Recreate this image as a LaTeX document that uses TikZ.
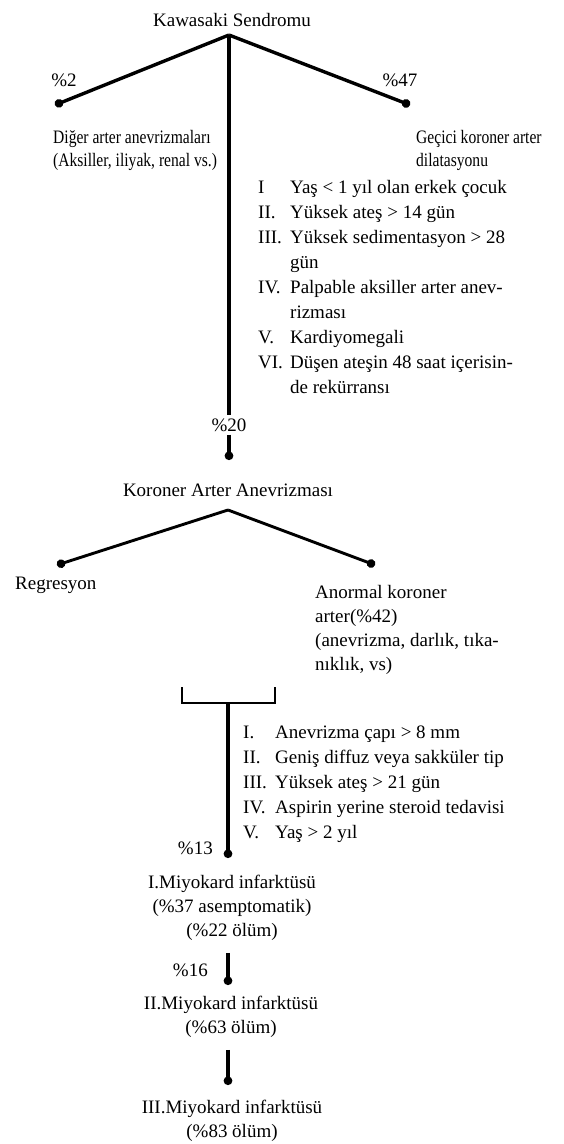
\documentclass[tikz,border=0pt]{standalone}
\usepackage{fontspec}
\setmainfont{Liberation Serif}
\newfontfamily\narrowserif[FakeStretch=0.82]{Liberation Serif}
\usepackage{tikz}
\usetikzlibrary{
  arrows.meta,
  positioning,
}

\begin{document}
\begin{tikzpicture}[
    x=1pt, y=-1pt,
    txt/.style={inner sep=0pt, font=\fontsize{19}{24}\selectfont},
    narrow/.style={inner sep=0pt, font=\narrowserif\fontsize{19}{23}\selectfont},
    list/.style={inner sep=0pt, font=\fontsize{19}{25}\selectfont},
    pct/.style={txt, inner sep=3pt},
    lead/.style={line width=3.4pt, -{Circle[length=8.5pt]}},
    stem/.style={line width=3.6pt},
  ]
  \useasboundingbox (0,0) rectangle (564,1144);

  \node[txt] (kawasaki) at (232,20) {Kawasaki Sendromu};
  \coordinate (kApex) at (229,35);
  \coordinate (digerEnd) at (55,105);
  \coordinate (geciciEnd) at (410,105);

  \node[txt] (p2) at (64,80) {\%2};
  \node[txt] (p47) at (400,80) {\%47};
  \draw[lead] (kApex) -- (digerEnd);
  \draw[lead] (kApex) -- (geciciEnd);

  \node[narrow, align=left, anchor=north west] (diger) at (53,130)
    {Diğer arter anevrizmaları\\(Aksiller, iliyak, renal vs.)};
  \node[narrow, align=left, anchor=north west] (gecici) at (416,130)
    {Geçici koroner arter\\dilatasyonu};

  \node[list, anchor=north west] (risk1) at (258,176) {%
    \begin{tabular}{@{}p{32pt}@{}l@{}}
      I    & Yaş < 1 yıl olan erkek çocuk \\
      II.  & Yüksek ateş > 14 gün \\
      III. & Yüksek sedimentasyon > 28 \\
           & gün \\
      IV.  & Palpable aksiller arter anev- \\
           & rizması \\
      V.   & Kardiyomegali \\
      VI.  & Düşen ateşin 48 saat içerisin- \\
           & de rekürransı
    \end{tabular}};

  \node[pct] (p20) at (229,425) {\%20};
  \draw[stem] (kApex) -- (kApex |- p20.north);
  \coordinate (kaaTip) at (229,460);
  \draw[lead] (p20.south) -- (kaaTip);

  \node[txt] (kaa) at (228,490) {Koroner Arter Anevrizması};
  \coordinate (kaaApex) at (228,510);
  \coordinate (regEnd) at (57,565);
  \coordinate (anoEnd) at (375,565);
  \draw[lead, line width=2.9pt] (kaaApex) -- (regEnd);
  \draw[lead, line width=2.9pt] (kaaApex) -- (anoEnd);

  \node[txt, anchor=west] (regresyon) at (15,585) {Regresyon};
  \node[txt, align=left, anchor=north west] (anormal) at (315,585)
    {Anormal koroner\\arter(\%42)\\(anevrizma, darlık, tıka-\\nıklık, vs)};

  \coordinate (brL) at (182,687);
  \coordinate (brR) at (275,687);
  \coordinate (brM) at (228,703);
  \draw[line width=2.8pt] (brL) -- (brL |- brM) -- (brR |- brM) -- (brR);

  \node[list, anchor=north west] (risk2) at (243,721) {%
    \begin{tabular}{@{}p{32pt}@{}l@{}}
      I.   & Anevrizma çapı > 8 mm \\
      II.  & Geniş diffuz veya sakküler tip \\
      III. & Yüksek ateş > 21 gün \\
      IV.  & Aspirin yerine steroid tedavisi \\
      V.   & Yaş > 2 yıl
    \end{tabular}};

  \node[txt, align=center, anchor=north] (mi1) at (232,875)
    {I.Miyokard infarktüsü\\(\%37 asemptomatik)\\(\%22 ölüm)};
  \node[txt, anchor=east] (p13) at (213,848) {\%13};
  \draw[lead, shorten >=17pt] (brM) -- (brM |- mi1.north);

  \node[txt, align=center, anchor=north] (mi2) at (231,996)
    {II.Miyokard infarktüsü\\(\%63 ölüm)};
  \node[txt, anchor=east] (p16) at (208,970) {\%16};
  \draw[lead, shorten <=12pt, shorten >=11pt] (mi1.south -| brM) -- (mi2.north -| brM);

  \node[txt, align=center, anchor=north] (mi3) at (232,1100)
    {III.Miyokard infarktüsü\\(\%83 ölüm)};
  \draw[lead, shorten <=12pt, shorten >=15pt] (mi2.south -| brM) -- (mi3.north -| brM);
\end{tikzpicture}
\end{document}
